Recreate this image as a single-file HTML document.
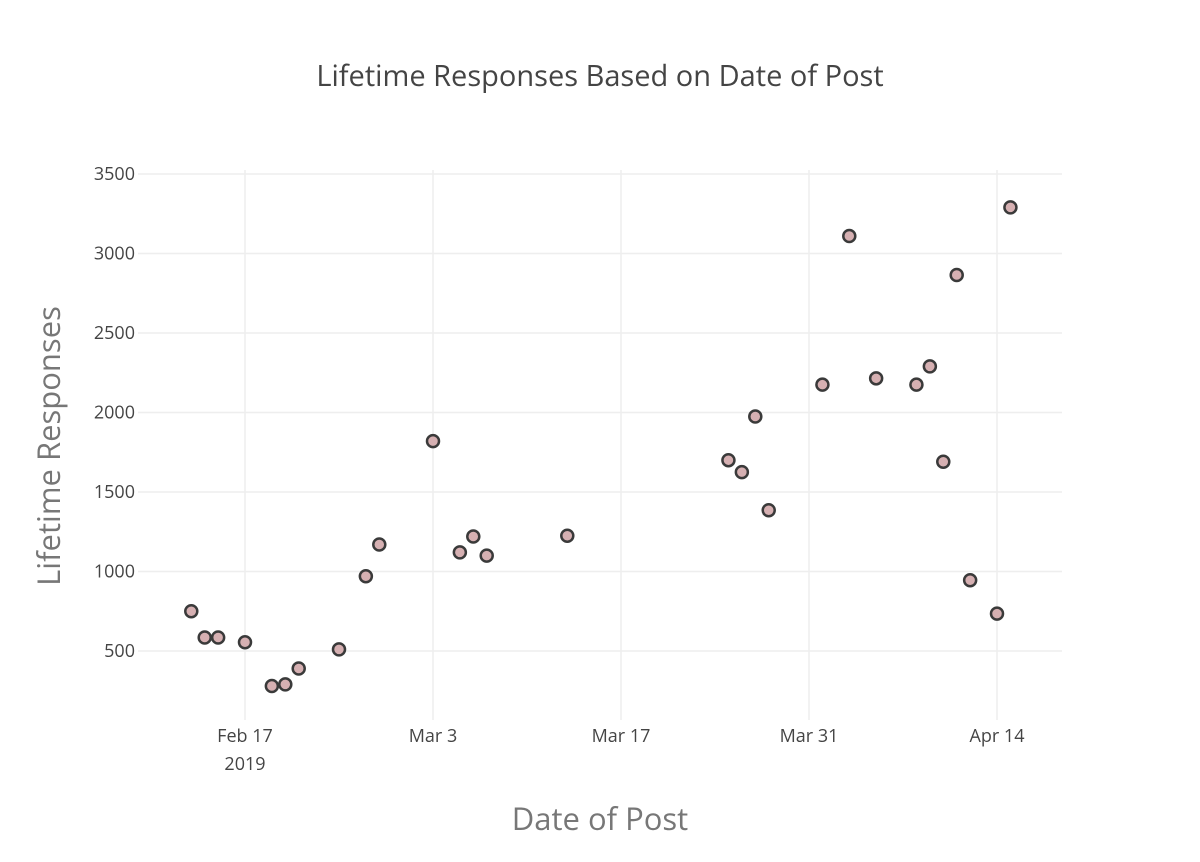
<!DOCTYPE html>
<html><head><meta charset="utf-8"><style>
body{margin:0;background:#fff;font-family:"Open Sans","Liberation Sans",sans-serif}
svg text{font-family:"Open Sans","Liberation Sans",sans-serif}
</style></head><body>
<svg id="chart" width="1200" height="857" xmlns="http://www.w3.org/2000/svg">
<text x="600" y="86" text-anchor="middle" font-size="29" fill="#444">Lifetime Responses Based on Date of Post</text>
<g id="grid"></g>
<g id="ticks"></g>
<g id="points"></g>
<text transform="translate(60,446) rotate(-90)" text-anchor="middle" font-size="31" fill="#777">Lifetime Responses</text>
<text x="600" y="830" text-anchor="middle" font-size="31" fill="#777">Date of Post</text>
</svg>
<script>
const dates=["2019-02-13","2019-02-14","2019-02-15","2019-02-17","2019-02-19","2019-02-20","2019-02-21","2019-02-24","2019-02-26","2019-02-27","2019-03-03","2019-03-05","2019-03-06","2019-03-07","2019-03-13","2019-03-25","2019-03-26","2019-03-27","2019-03-28","2019-04-01","2019-04-03","2019-04-05","2019-04-08","2019-04-09","2019-04-10","2019-04-11","2019-04-12","2019-04-14","2019-04-15"];
const responses=[750,585,585,555,280,290,390,510,970,1170,1820,1120,1220,1100,1225,1700,1625,1975,1385,2175,3110,2215,2175,2290,1690,2865,945,735,3290];
const yTicks=[500,1000,1500,2000,2500,3000,3500];
const xTickDates=["2019-02-17","2019-03-03","2019-03-17","2019-03-31","2019-04-14"];
const xTickLabels=["Feb 17","Mar 3","Mar 17","Mar 31","Apr 14"];
const NS="http://www.w3.org/2000/svg";
const base=Date.UTC(2019,1,17);
function day(s){const p=s.split('-');return (Date.UTC(+p[0],p[1]-1,+p[2])-base)/86400000;}
function xPx(s){return 245+day(s)*(188/14);}
function yPx(v){return 651-(v-500)*(477/3000);}
const L=138,R=1062,T=170,B=720;
function mk(tag,attrs,parent){const e=document.createElementNS(NS,tag);for(const k in attrs)e.setAttribute(k,attrs[k]);parent.appendChild(e);return e;}
const grid=document.getElementById('grid'),ticks=document.getElementById('ticks'),pts=document.getElementById('points');
yTicks.forEach(v=>{
  const l=mk('line',{x1:L,x2:R,y1:yPx(v),y2:yPx(v),stroke:'#eee','stroke-width':1.5},grid);
  
  
  const t=mk('text',{x:135,y:yPx(v)+6,'text-anchor':'end','font-size':18,fill:'#444'},ticks);
  t.textContent=v;
  
  
});
xTickDates.forEach((d,i)=>{
  const x=xPx(d);
  const l=mk('line',{x1:x,x2:x,y1:T,y2:B,stroke:'#eee','stroke-width':1.5},grid);
  
  
  const t=mk('text',{x:x,y:742,'text-anchor':'middle','font-size':18,fill:'#444'},ticks);
  t.textContent=xTickLabels[i];
  
  
  if(i===0){const y=mk('text',{x:x,y:770,'text-anchor':'middle','font-size':18,fill:'#444'},ticks);y.textContent='2019';
  
  }
});
dates.forEach((d,i)=>{
  const c=mk('circle',{cx:xPx(d),cy:yPx(responses[i]),r:6,fill:'#d6b0b2',stroke:'#3a3a3a','stroke-width':2.5},pts);
  
  
});
</script>
</body></html>
